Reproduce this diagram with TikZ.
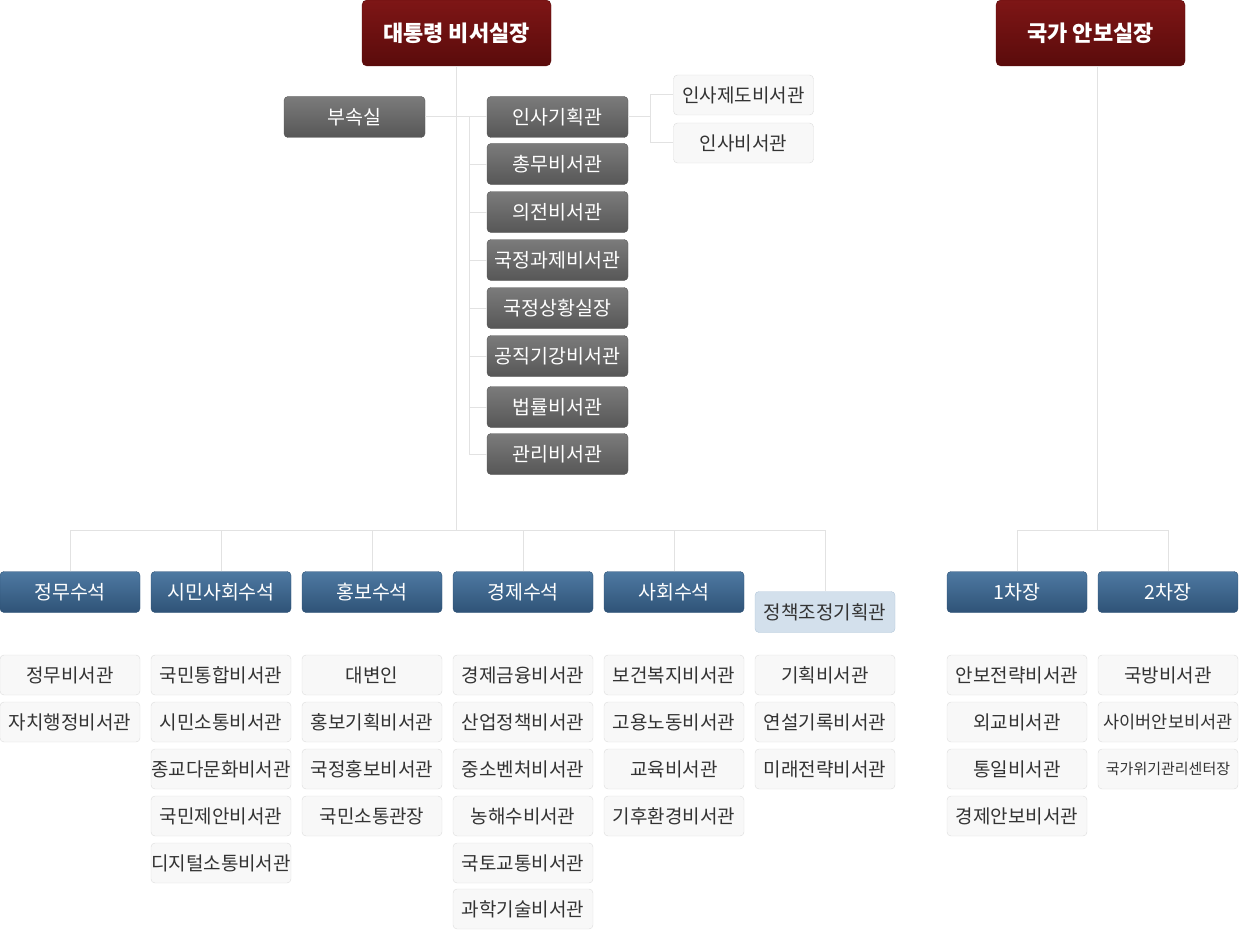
\documentclass[tikz,border=0pt]{standalone}
\usepackage{fontspec}
\setmainfont{Noto Sans CJK KR}
\usepackage{tikz}
\usetikzlibrary{positioning}
\usepackage{xcolor}

\definecolor{redtop}{HTML}{7E1616}
\definecolor{redbot}{HTML}{5A0B0B}
\definecolor{graytop}{HTML}{7B7B7B}
\definecolor{graybot}{HTML}{575757}
\definecolor{bluetop}{HTML}{4E79A2}
\definecolor{bluebot}{HTML}{2F5377}
\definecolor{paleblue}{HTML}{D3E0EC}
\definecolor{paleline}{HTML}{B3C7DA}
\definecolor{staffbg}{HTML}{F8F8F8}
\definecolor{staffline}{HTML}{DCDCDC}
\definecolor{linkgray}{HTML}{E2E2E2}
\definecolor{textgray}{HTML}{333333}

\tikzset{
  chief/.style={rounded corners=5pt, top color=redtop, bottom color=redbot, draw=redbot,
    text=white, font=\fontsize{22}{26}\selectfont\bfseries,
    minimum width=189pt, minimum height=66pt, inner sep=0pt},
  dept/.style={rounded corners=4pt, top color=graytop, bottom color=graybot, draw=graybot,
    text=white, font=\fontsize{19.5}{23}\selectfont,
    minimum width=141pt, minimum height=41pt, inner sep=0pt},
  senior/.style={rounded corners=4pt, top color=bluetop, bottom color=bluebot, draw=bluebot,
    text=white, font=\fontsize{19.5}{23}\selectfont,
    minimum width=140pt, minimum height=41pt, inner sep=0pt},
  policy/.style={rounded corners=4pt, fill=paleblue, draw=paleline,
    text=textgray, font=\fontsize{19}{23}\selectfont,
    minimum width=140pt, minimum height=41pt, inner sep=0pt},
  staff/.style={rounded corners=4pt, fill=staffbg, draw=staffline,
    text=textgray, font=\fontsize{19}{23}\selectfont,
    minimum width=140pt, minimum height=40pt, inner sep=0pt},
  link/.style={draw=linkgray, line width=1pt}
}

\begin{document}
\begin{tikzpicture}[x=1pt, y=-1pt]
\useasboundingbox (0,0) rectangle (1239,931);

% top
\node[chief] (chief) at (456.5,33) {대통령 비서실장};
\node[chief] (nsa) at (1090.5,33) {국가 안보실장};

% secretariat
\node[dept] (busok) at (354.5,117) {부속실};
\node[dept] (insa) at (557.5,117) {인사기획관};
\node[dept] (chongmu) at (557.5,164) {총무비서관};
\node[dept] (uijeon) at (557.5,212) {의전비서관};
\node[dept] (gwaje) at (557.5,260) {국정과제비서관};
\node[dept] (sanghwang) at (557.5,308) {국정상황실장};
\node[dept] (gonggik) at (557.5,356) {공직기강비서관};
\node[dept] (beopryul) at (557.5,407) {법률비서관};
\node[dept] (gwanri) at (557.5,454) {관리비서관};
\node[staff] (jedo) at (743.5,95) {인사제도비서관};
\node[staff] (insabi) at (743.5,143) {인사비서관};

% senior secretaries
\node[senior] (jeongmu) at (70,592) {정무수석};
\node[senior] (simin) at (221,592) {시민사회수석};
\node[senior] (hongbo) at (372,592) {홍보수석};
\node[senior] (gyeongje) at (523,592) {경제수석};
\node[senior] (sahoe) at (674,592) {사회수석};
\node[policy] (jeongchaek) at (825,612) {정책조정기획관};
\node[senior] (cha1) at (1017,592) {1차장};
\node[senior] (cha2) at (1168,592) {2차장};

% staff rows
\node[staff] (jm1) at (70,675) {정무비서관};
\node[staff] (jm2) at (70,722) {자치행정비서관};

\node[staff] (sm1) at (221,675) {국민통합비서관};
\node[staff] (sm2) at (221,722) {시민소통비서관};
\node[staff] (sm3) at (221,769) {종교다문화비서관};
\node[staff] (sm4) at (221,816) {국민제안비서관};
\node[staff] (sm5) at (221,863) {디지털소통비서관};

\node[staff] (hb1) at (372,675) {대변인};
\node[staff] (hb2) at (372,722) {홍보기획비서관};
\node[staff] (hb3) at (372,769) {국정홍보비서관};
\node[staff] (hb4) at (372,816) {국민소통관장};

\node[staff] (gj1) at (523,675) {경제금융비서관};
\node[staff] (gj2) at (523,722) {산업정책비서관};
\node[staff] (gj3) at (523,769) {중소벤처비서관};
\node[staff] (gj4) at (523,816) {농해수비서관};
\node[staff] (gj5) at (523,863) {국토교통비서관};
\node[staff] (gj6) at (523,909) {과학기술비서관};

\node[staff] (sh1) at (674,675) {보건복지비서관};
\node[staff] (sh2) at (674,722) {고용노동비서관};
\node[staff] (sh3) at (674,769) {교육비서관};
\node[staff] (sh4) at (674,816) {기후환경비서관};

\node[staff] (jc1) at (825,675) {기획비서관};
\node[staff] (jc2) at (825,722) {연설기록비서관};
\node[staff] (jc3) at (825,769) {미래전략비서관};

\node[staff] (ca1) at (1017,675) {안보전략비서관};
\node[staff] (ca2) at (1017,722) {외교비서관};
\node[staff] (ca3) at (1017,769) {통일비서관};
\node[staff] (ca4) at (1017,816) {경제안보비서관};

\node[staff] (cb1) at (1168,675) {국방비서관};
\node[staff, font=\fontsize{17.5}{21}\selectfont] (cb2) at (1168,722) {사이버안보비서관};
\node[staff, font=\fontsize{15}{18}\selectfont] (cb3) at (1168,769) {국가위기관리센터장};

% connectors
\coordinate (bus) at (0,530);
\draw[link] (chief.south) -- (chief.south |- bus);
\draw[link] (busok.east) -- (insa.west);
\draw[link] (insa.west) -- ++(-17,0) |- (gwanri.west);
\foreach \n in {chongmu,uijeon,gwaje,sanghwang,gonggik,beopryul}
  \draw[link] (\n.west) -- ++(-17,0);
\draw[link] (insa.east) -- ++(22,0) |- (jedo.west);
\draw[link] (insa.east) ++(22,0) |- (insabi.west);
\draw[link] (jeongmu.north) |- (jeongchaek.north |- bus) -- (jeongchaek.north);
\foreach \n in {simin,hongbo,gyeongje,sahoe}
  \draw[link] (\n.north) -- (\n.north |- bus);
\draw[link] (nsa.south) ++(6.5,0) -- ++(0,464);
\draw[link] (cha1.north) |- (cha2.north |- bus) -- (cha2.north);
\end{tikzpicture}
\end{document}
